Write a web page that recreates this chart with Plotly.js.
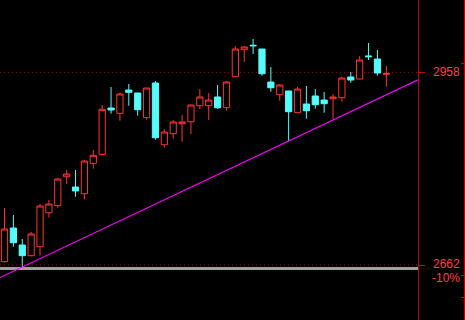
<!DOCTYPE html>
<html>
<head>
<meta charset="utf-8">
<script src="https://cdn.plot.ly/plotly-3.0.1.min.js"></script>
<style>html,body{margin:0;padding:0;background:#000;}#chart{width:465px;height:320px;}</style>
</head>
<body>
<div id="chart"></div>
<script>
// Daily candles (index 0..43)
var openP  = [2667.1,2718.8,2692.7,2676.3,2690.1,2742.3,2753.1,2797.6,2781.8,2771.5,2818.2,2832.0,2903.2,2895.0,2930.8,2926.2,2888.3,2941.6,2846.8,2863.7,2879.0,2882.1,2906.7,2906.7,2920.1,2903.6,2951.2,2992.7,2999.6,2993.8,2943.1,2923.6,2929.3,2895.9,2909.3,2921.6,2915.4,2917.4,2919.0,2950.8,2947.7,2983.2,2978.4,2955.0];
var highP  = [2749.5,2738.8,2701.9,2712.7,2755.7,2761.8,2795.6,2807.9,2807.9,2823.7,2838.6,2907.8,2935.4,2926.7,2940.0,2926.5,2934.2,2944.6,2870.9,2884.7,2892.4,2908.2,2932.3,2926.2,2938.5,2944.6,2998.4,2998.6,3009.2,2994.1,2966.1,2940.0,2929.6,2935.4,2937.0,2932.3,2927.7,2924.7,2950.8,2958.5,2983.0,3003.0,2992.3,2967.7];
var lowP   = [2665.5,2690.1,2658.9,2675.5,2676.3,2734.6,2750.0,2786.4,2766.9,2762.6,2809.9,2831.0,2894.4,2883.7,2906.7,2891.3,2885.2,2854.5,2842.2,2856.0,2851.4,2863.2,2901.6,2884.7,2901.6,2899.0,2950.8,2973.8,2986.1,2952.8,2928.2,2914.4,2852.5,2895.6,2886.7,2902.1,2895.9,2886.3,2912.8,2942.0,2947.4,2976.9,2952.8,2935.9];
var closeP = [2717.3,2696.2,2676.3,2709.6,2752.6,2755.7,2794.1,2801.8,2775.7,2821.7,2830.5,2901.2,2900.1,2924.7,2927.3,2900.5,2933.9,2857.5,2866.3,2881.7,2881.7,2907.8,2920.1,2915.4,2903.6,2943.1,2993.8,2996.9,2998.8,2955.8,2934.3,2938.5,2897.5,2932.3,2899.0,2908.2,2909.8,2920.1,2949.2,2946.2,2976.9,2982.0,2956.9,2956.0];

// Reference levels and labels
var refPrice = 2958;
var dropPrice = 2662;
var grayLevel = 2656.6;
var priceLabels = ['2958', '2662'];
var pctLabel = '-10%';
var rightTicks = [2972.3, 2646.6, 2612.8];

// Trendline anchors (candle indices whose lows it joins)
var trendAnchors = [2, 32];

var idx = openP.map(function(_, i){ return i; });
var xr = [-0.507, 46.57];
var yr = [2577.5, 3069.1];

var a0 = trendAnchors[0], a1 = trendAnchors[1];
var slope = (lowP[a1] - lowP[a0]) / (a1 - a0);
var trendX = [xr[0], xr[1]];
var trendY = trendX.map(function(x){ return lowP[a0] + slope * (x - a0); });

var RED = '#ff3232', CYAN = '#54fcfc', AXRED = '#c80000', TXTRED = '#ff4040';
var domEnd = 418 / 465;
var FONT = {family: 'Liberation Sans, Arial', size: 12, color: TXTRED};

var traces = [
  {
    type: 'candlestick', x: idx, open: openP, high: highP, low: lowP, close: closeP,
    increasing: {line: {color: RED, width: 1}, fillcolor: '#000000'},
    decreasing: {line: {color: CYAN, width: 1}, fillcolor: CYAN},
    whiskerwidth: 0, hoverinfo: 'skip', showlegend: false
  },
  {
    type: 'scatter', mode: 'lines', x: trendX, y: trendY,
    line: {color: '#ff00ff', width: 1.2}, hoverinfo: 'skip', showlegend: false
  },
  { type: 'scatter', mode: 'lines', x: [], y: [], yaxis: 'y2', showlegend: false, hoverinfo: 'skip' }
];

var layout = {
  width: 465, height: 320,
  margin: {l: 0, r: 0, t: 0, b: 0, pad: 0},
  paper_bgcolor: '#000000', plot_bgcolor: '#000000',
  showlegend: false,
  boxgap: 0.3, boxgroupgap: 0,
  xaxis: {
    domain: [0, domEnd], range: xr, showgrid: false, zeroline: false,
    showticklabels: false, ticks: '', showline: false,
    rangeslider: {visible: false}, fixedrange: true
  },
  yaxis: {
    range: yr, side: 'right', showline: true, linecolor: AXRED, linewidth: 1,
    ticks: 'outside', ticklen: 6, tickwidth: 1, tickcolor: AXRED,
    tickvals: [refPrice, dropPrice], showticklabels: false,
    showgrid: false, zeroline: false, fixedrange: true
  },
  yaxis2: {
    overlaying: 'y', anchor: 'free', position: 463.5 / 465, side: 'right',
    range: yr, showline: true, linecolor: AXRED, linewidth: 1,
    ticks: 'inside', ticklen: 3, tickcolor: AXRED, tickvals: rightTicks,
    showticklabels: false, showgrid: false, zeroline: false, fixedrange: true
  },
  shapes: [
    {type: 'line', xref: 'paper', yref: 'y', x0: 0, x1: domEnd, y0: grayLevel, y1: grayLevel,
     line: {color: '#a0a0a0', width: 3}, layer: 'below'},
    {type: 'line', xref: 'paper', yref: 'y', x0: 0, x1: domEnd, y0: refPrice, y1: refPrice,
     line: {color: '#b40000', width: 1, dash: '1px,3px'}, layer: 'below'},
    {type: 'line', xref: 'paper', yref: 'y', x0: 0, x1: domEnd, y0: dropPrice, y1: dropPrice,
     line: {color: '#b40000', width: 1, dash: '1px,3px'}, layer: 'below'}
  ],
  annotations: [
    {xref: 'paper', yref: 'y', x: 461 / 465, y: refPrice, xanchor: 'right', yanchor: 'middle',
     text: priceLabels[0], showarrow: false, borderpad: 0, font: FONT},
    {xref: 'paper', yref: 'y', x: 461 / 465, y: dropPrice, yshift: 1.5, xanchor: 'right', yanchor: 'middle',
     text: priceLabels[1], showarrow: false, borderpad: 0, font: FONT},
    {xref: 'paper', yref: 'y', x: 461 / 465, y: dropPrice, yshift: -12.5, xanchor: 'right', yanchor: 'middle',
     text: pctLabel, showarrow: false, borderpad: 0, font: FONT}
  ]
};

Plotly.newPlot('chart', traces, layout, {staticPlot: true, displayModeBar: false});
</script>
</body>
</html>
